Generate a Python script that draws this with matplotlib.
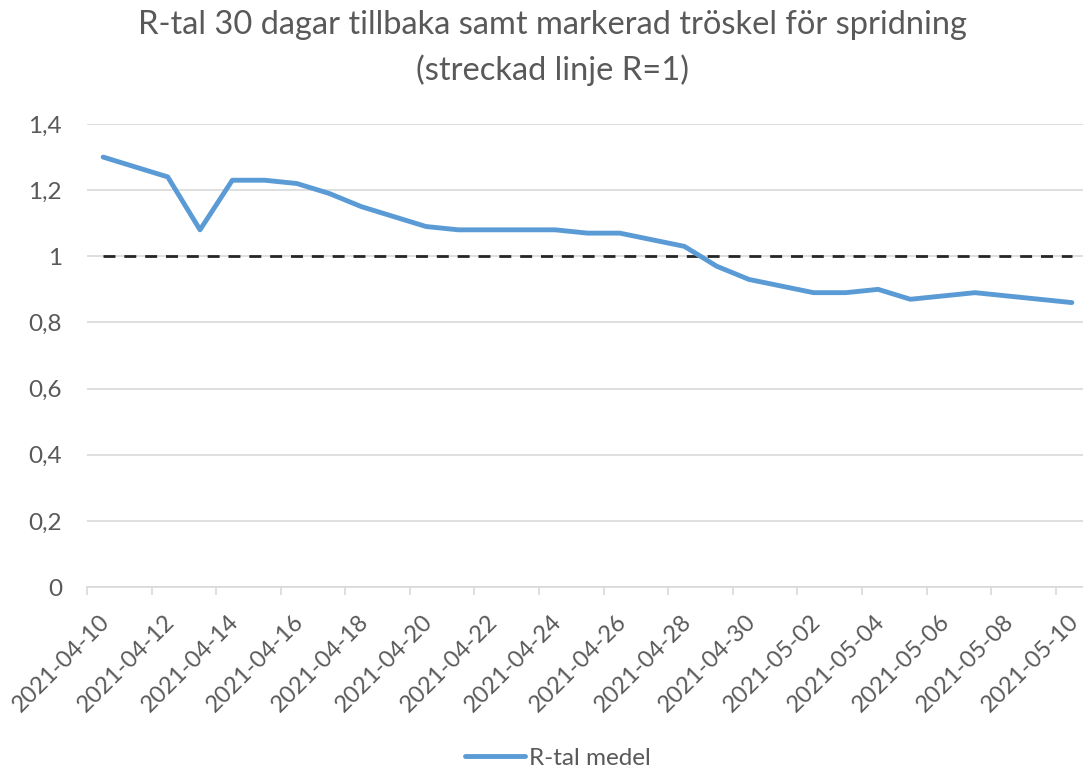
import matplotlib
matplotlib.use("Agg")
import matplotlib.pyplot as plt
import matplotlib.transforms as mtransforms
import numpy as np
import pandas as pd

# Data
dates = pd.date_range("2021-04-10", "2021-05-10", freq="D")
r_values = [1.30, 1.27, 1.24, 1.08, 1.23, 1.23, 1.22, 1.19, 1.15, 1.12,
            1.09, 1.08, 1.08, 1.08, 1.08, 1.07, 1.07, 1.05, 1.03, 0.97,
            0.93, 0.91, 0.89, 0.89, 0.90, 0.87, 0.88, 0.89, 0.88, 0.87,
            0.86]
threshold = [1.0] * len(dates)
y_ticks = [0, 0.2, 0.4, 0.6, 0.8, 1.0, 1.2, 1.4]
y_tick_labels = ["0", "0,2", "0,4", "0,6", "0,8", "1", "1,2", "1,4"]

TEXT = "#595959"
GRID = "#d9d9d9"
BLUE = "#5b9bd5"

plt.rcParams['font.family'] = ['Lato', 'DejaVu Sans']

W, H = 1083, 770
fig = plt.figure(figsize=(W / 100, H / 100), dpi=100)

# plot area in pixels: left 87, right 1088, top 124, bottom 587
left, right, top, bottom = 87, 1088, 124, 587
ax = fig.add_axes([left / W, 1 - bottom / H, (right - left) / W, (bottom - top) / H])

x = np.arange(len(dates))
ax.plot(x, threshold, color="#262626", lw=2.0, dashes=(4.3, 3.2))
line, = ax.plot(x, r_values, color=BLUE, lw=3.5, solid_joinstyle="round",
                solid_capstyle="round", label="R-tal medel")

ax.set_xlim(-0.5, len(dates) - 0.5)
ax.set_ylim(0, 1.4)

ax.set_yticks(y_ticks)
ax.set_yticklabels(y_tick_labels)
ax.yaxis.grid(True, color=GRID, lw=1.2)
ax.set_axisbelow(True)

# labels every second day, tick marks at category boundaries
label_pos = x[::2]
ax.set_xticks(label_pos)
ax.set_xticklabels([d.strftime("%Y-%m-%d") for d in dates[::2]],
                   rotation=45, ha="right", rotation_mode="anchor")
ax.set_xticks(np.arange(-0.5, len(dates), 2), minor=True)
ax.tick_params(axis="x", which="major", length=0, pad=17, labelsize=17, labelcolor=TEXT)
ax.tick_params(axis="x", which="minor", length=6, color=GRID, width=1.2)
ax.tick_params(axis="y", length=0, pad=18, labelsize=17.5, labelcolor=TEXT)

# nudge the date labels a little to the left, like the reference
shift = mtransforms.ScaledTranslation(-4 / 100, 0, fig.dpi_scale_trans)
for lab in ax.get_xticklabels():
    lab.set_transform(lab.get_transform() + shift)

for s in ["top", "right", "left"]:
    ax.spines[s].set_visible(False)
ax.spines["bottom"].set_color(GRID)
ax.spines["bottom"].set_linewidth(1.2)

fig.text(0.51, 1 - 25 / H, "R-tal 30 dagar tillbaka samt markerad tröskel för spridning",
         ha="center", va="center", fontsize=23.5, color=TEXT)
fig.text(0.51, 1 - 70 / H, "(streckad linje R=1)",
         ha="center", va="center", fontsize=23.5, color=TEXT)

fig.legend(handles=[line], loc="center", bbox_to_anchor=(0.515, 1 - 758 / H),
           frameon=False, fontsize=17.5, labelcolor=TEXT, handlelength=2.5,
           handletextpad=0.15)

fig.savefig("out.png", dpi=100)
